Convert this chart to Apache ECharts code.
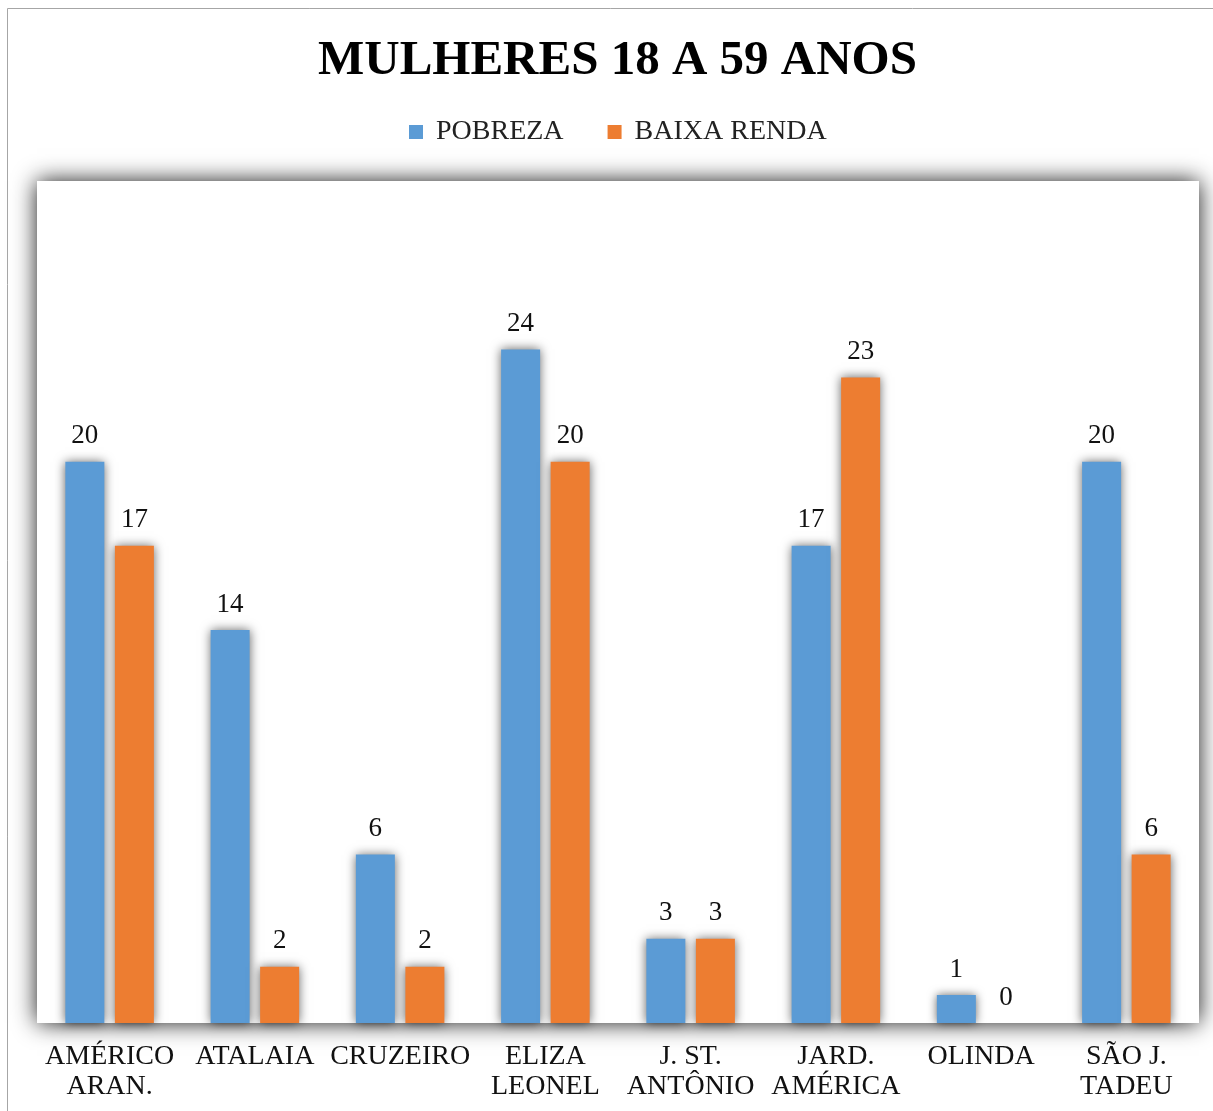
<!DOCTYPE html>
<html>
<head>
<meta charset="utf-8">
<title>MULHERES 18 A 59 ANOS</title>
<style>
  html, body { margin: 0; padding: 0; background: #fff; }
  #chart { width: 1213px; height: 1111px; }
</style>
</head>
<body>
<div id="chart"></div>
<script src="https://cdn.jsdelivr.net/npm/echarts@6/dist/echarts.min.js"></script>
<script>
// dados
var bairros = ['AMÉRICO\nARAN.', 'ATALAIA', 'CRUZEIRO', 'ELIZA\nLEONEL', 'J. ST.\nANTÔNIO', 'JARD.\nAMÉRICA', 'OLINDA', 'SÃO J.\nTADEU'];
var pobreza = [20, 14, 6, 24, 3, 17, 1, 20];
var baixaRenda = [17, 2, 2, 20, 3, 23, 0, 6];

var fonte = '"Liberation Serif", "DejaVu Serif", serif';

var myChart = echarts.init(document.getElementById('chart'));

var option = {
  backgroundColor: '#fff',
  textStyle: { fontFamily: fonte },
  title: {
    text: 'MULHERES 18 A 59 ANOS',
    left: 313,
    top: 32,
    textStyle: { fontFamily: fonte, fontSize: 49, fontWeight: 'bold', color: '#000' }
  },
  legend: {
    data: ['POBREZA', 'BAIXA RENDA'],
    left: 404,
    top: 113,
    icon: 'rect',
    itemWidth: 14,
    itemHeight: 14,
    itemGap: 44,
    textStyle: { fontFamily: fonte, fontSize: 28, color: '#222', padding: [0, 0, 0, 8] }
  },
  graphic: [{
    type: 'rect',
    silent: true,
    shape: { x: 7.5, y: 8.5, width: 1300, height: 1300 },
    style: { fill: 'none', stroke: '#a6a6a6', lineWidth: 1 }
  }],
  grid: {
    show: true,
    left: 37,
    right: 14,
    top: 181,
    bottom: 88,
    backgroundColor: '#fff',
    borderWidth: 0,
    shadowBlur: 22,
    shadowColor: 'rgba(0,0,0,0.9)'
  },
  xAxis: {
    type: 'category',
    data: bairros,
    axisLine: { show: false },
    axisTick: { show: false },
    axisLabel: {
      interval: 0,
      margin: 19,
      fontFamily: fonte,
      fontSize: 28,
      lineHeight: 30,
      color: '#111'
    }
  },
  yAxis: {
    type: 'value',
    min: 0,
    max: 30,
    show: false,
    splitLine: { show: false }
  },
  series: [
    {
      name: 'POBREZA',
      type: 'bar',
      data: pobreza,
      barWidth: 39,
      barGap: '27%',
      itemStyle: { color: '#5b9bd5', shadowBlur: 10, shadowColor: 'rgba(0,0,0,0.6)' },
      label: { show: true, position: 'top', distance: 12, fontFamily: fonte, fontSize: 27, color: '#111' }
    },
    {
      name: 'BAIXA RENDA',
      type: 'bar',
      data: baixaRenda,
      barWidth: 39,
      itemStyle: { color: '#ed7d31', shadowBlur: 10, shadowColor: 'rgba(0,0,0,0.6)' },
      label: { show: true, position: 'top', distance: 12, fontFamily: fonte, fontSize: 27, color: '#111' }
    }
  ]
};

myChart.setOption(option);
</script>
</body>
</html>
